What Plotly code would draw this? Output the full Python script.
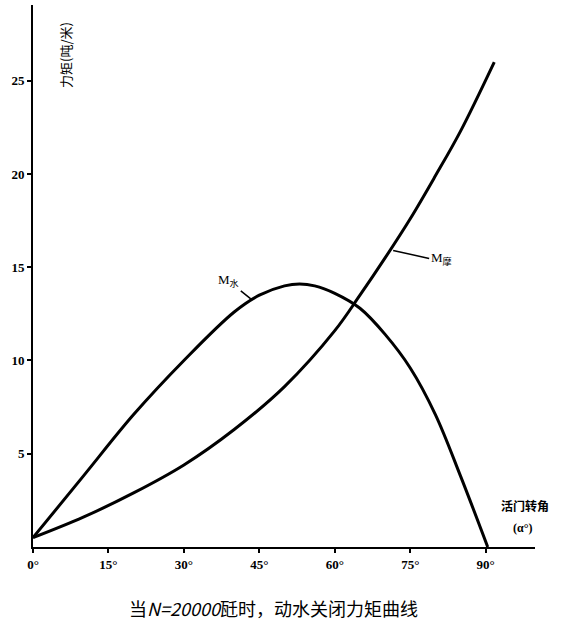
import plotly.graph_objects as go

# Angle (deg) and moment (吨·米)
water_angle = [0, 10, 20, 30, 40, 45, 50, 53, 56, 60, 65, 70, 75, 80, 85, 90.4]
water_moment = [0.5, 3.8, 7.1, 10.0, 12.6, 13.5, 14.0, 14.1, 14.0, 13.6, 12.8, 11.4, 9.6, 7.1, 3.8, 0.0]

fric_angle = [0, 10, 20, 30, 40, 50, 60, 65, 70, 75, 80, 85, 91.7]
fric_moment = [0.5, 1.6, 2.9, 4.4, 6.3, 8.6, 11.6, 13.5, 15.5, 17.6, 19.9, 22.3, 26.0]

x_ticks = [0, 15, 30, 45, 60, 75, 90]
x_tick_text = ["0°", "15°", "30°", "45°", "60°", "75°", "90°"]
y_ticks = [5, 10, 15, 20, 25]
y_tick_text = ["5", "10", "15", "20", "25"]

fig = go.Figure()
fig.add_trace(go.Scatter(x=water_angle, y=water_moment, mode="lines",
                         line=dict(color="black", width=3, shape="spline", smoothing=1.0),
                         name="M水", showlegend=False))
fig.add_trace(go.Scatter(x=fric_angle, y=fric_moment, mode="lines",
                         line=dict(color="black", width=3, shape="spline", smoothing=1.0),
                         name="M摩", showlegend=False))

tick_font = dict(family="Liberation Serif", size=13, color="black", weight="bold")

fig.update_xaxes(range=[0, 99.8], showline=True, linecolor="black", linewidth=2,
                 tickvals=x_ticks, ticktext=x_tick_text, ticks="outside", ticklen=4,
                 tickwidth=2, tickcolor="black", tickfont=tick_font, showgrid=False,
                 zeroline=False)
fig.update_yaxes(range=[0, 29.06], showline=True, linecolor="black", linewidth=2,
                 tickvals=y_ticks, ticktext=y_tick_text, ticks="outside", ticklen=4,
                 tickwidth=2, tickcolor="black", tickfont=tick_font, showgrid=False,
                 zeroline=False)

annotations = [
    dict(x=43.3, y=13.3, xref="x", yref="y", ax=-10, ay=-8, showarrow=True,
         arrowhead=0, arrowwidth=1.5, arrowcolor="black",
         text="M<sub>水</sub>", xanchor="right", yanchor="bottom",
         font=dict(family="Liberation Serif, Noto Sans CJK SC", size=13, color="black")),
    dict(x=71.6, y=15.9, xref="x", yref="y", ax=36, ay=8, showarrow=True,
         arrowhead=0, arrowwidth=1.5, arrowcolor="black",
         text="M<sub>摩</sub>", xanchor="left", yanchor="middle",
         font=dict(family="Liberation Serif, Noto Sans CJK SC", size=13, color="black")),
    dict(x=66, y=55, xref="paper", yref="paper", xanchor="center", yanchor="middle",
         text="力矩(吨/米)", textangle=-90, showarrow=False,
         font=dict(family="Noto Sans CJK SC", size=13, color="black")),
    dict(x=525, y=505, xref="paper", yref="paper", text="活门转角", showarrow=False,
         font=dict(family="Noto Sans CJK SC", size=12, color="black", weight="bold")),
    dict(x=523, y=528, xref="paper", yref="paper", text="(α°)", showarrow=False,
         font=dict(family="Liberation Serif", size=12, color="black", weight="bold")),
    dict(x=273, y=608, xref="paper", yref="paper", text="当<i>N=20000</i>瓩时，动水关闭力矩曲线",
         showarrow=False,
         font=dict(family="Noto Sans CJK SC", size=18, color="black")),
]

# convert pixel-placed paper annotations to paper fractions
W, H = 564, 635
ml, mr, mt, mb = 33, 29, 5, 88
pw, ph = W - ml - mr, H - mt - mb
for a in annotations:
    if a["xref"] == "paper":
        px, py = a["x"], a["y"]
        a["x"] = (px - ml) / pw
        a["y"] = 1 - (py - mt) / ph
        a.setdefault("xanchor", "center")
        a.setdefault("yanchor", "middle")

fig.update_layout(width=W, height=H, margin=dict(l=ml, r=mr, t=mt, b=mb),
                  plot_bgcolor="white", paper_bgcolor="white",
                  annotations=annotations, showlegend=False)

fig.write_html("out.html")
